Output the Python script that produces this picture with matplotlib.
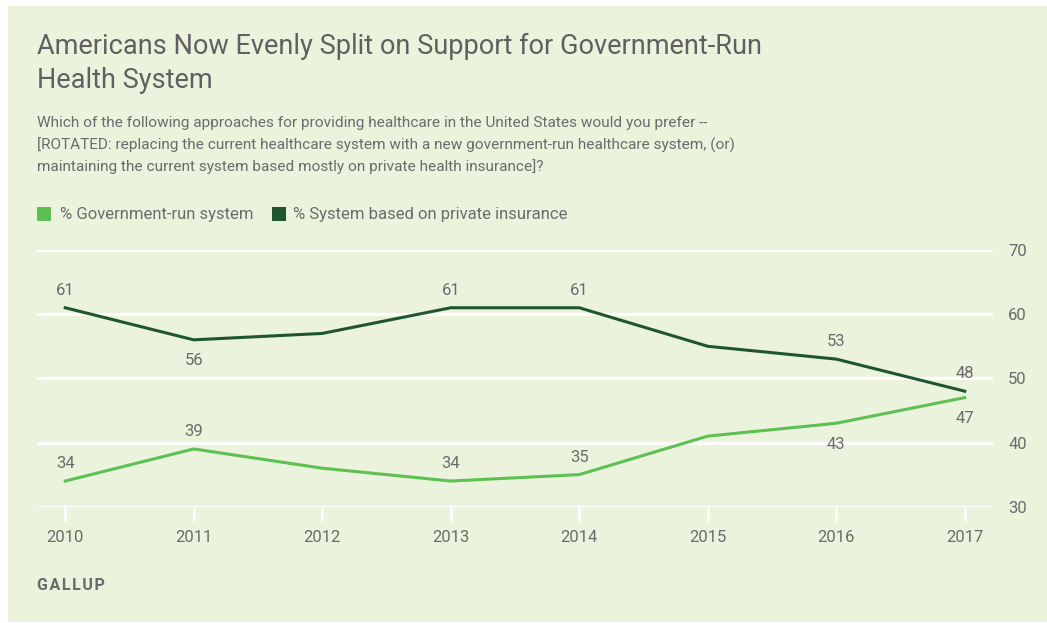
import matplotlib.pyplot as plt
from matplotlib.patches import Rectangle

years = [2010, 2011, 2012, 2013, 2014, 2015, 2016, 2017]
gov_run = [34, 39, 36, 34, 35, 41, 43, 47]
private = [61, 56, 57, 61, 61, 55, 53, 48]

# which points get a value label, and on which side of the line
gov_labels = {2010: "above", 2011: "above", 2013: "above", 2014: "above", 2016: "below", 2017: "below"}
priv_labels = {2010: "above", 2011: "below", 2013: "above", 2014: "above", 2016: "above", 2017: "above"}

y_ticks = [30, 40, 50, 60, 70]

light = "#5cc152"
dark = "#1f5631"
bg = "#ebf3dd"
grey = "#6b6b6b"

plt.rcParams["font.family"] = ["Roboto", "DejaVu Sans"]

W, H = 1047, 623
fig = plt.figure(figsize=(W / 100, H / 100), dpi=100)
fig.patch.set_facecolor("white")
fig.add_artist(Rectangle((8 / W, 1 - 622 / H), (W - 8) / W, (622 - 6) / H,
                         transform=fig.transFigure, facecolor=bg, edgecolor="none", zorder=0))

ax = fig.add_axes([37 / W, 1 - 506.7 / H, (993 - 37) / W, (506.7 - 250) / H])
ax.set_facecolor("none")
ax.set_ylim(30, 70)
ax.set_xlim(2009.78, 2017.22)

for t in y_ticks:
    ax.axhline(t, color="white", lw=2.2, zorder=1)
for s in ax.spines.values():
    s.set_visible(False)

ax.set_yticks(y_ticks)
ax.yaxis.tick_right()
ax.tick_params(axis="y", length=0, pad=11, labelsize=12, labelcolor=grey)
ax.set_xticks(years)
ax.tick_params(axis="x", length=10, width=2, color="white", pad=7, labelsize=12, labelcolor=grey)

ax.plot(years, gov_run, color=light, lw=2.2, zorder=3, clip_on=False)
ax.plot(years, private, color=dark, lw=2.2, zorder=3, clip_on=False)

for yr, v in zip(years, gov_run):
    if yr in gov_labels:
        off = 12.5 if gov_labels[yr] == "above" else -15
        ax.annotate(str(v), (yr, v), xytext=(0, off), textcoords="offset points",
                    ha="center", va="center", fontsize=12, color=grey)
for yr, v in zip(years, private):
    if yr in priv_labels:
        off = 12.5 if priv_labels[yr] == "above" else -15
        ax.annotate(str(v), (yr, v), xytext=(0, off), textcoords="offset points",
                    ha="center", va="center", fontsize=12, color=grey)

fig.text(37 / W, 1 - 46 / H, "Americans Now Evenly Split on Support for Government-Run",
         fontsize=19.5, color="#606060", va="center")
fig.text(37 / W, 1 - 81 / H, "Health System", fontsize=19.5, color="#606060", va="center")

sub = ["Which of the following approaches for providing healthcare in the United States would you prefer --",
       "[ROTATED: replacing the current healthcare system with a new government-run healthcare system, (or)",
       "maintaining the current system based mostly on private health insurance]?"]
for i, line in enumerate(sub):
    fig.text(37 / W, 1 - (123 + 22 * i) / H, line, fontsize=11.1, color=grey, va="center")

# legend
fig.add_artist(Rectangle((37 / W, 1 - 221 / H), 14 / W, 14 / H, transform=fig.transFigure,
                         facecolor=light, edgecolor="none"))
fig.text(60 / W, 1 - 214 / H, "% Government-run system", fontsize=12, color=grey, va="center")
fig.add_artist(Rectangle((272 / W, 1 - 221 / H), 14 / W, 14 / H, transform=fig.transFigure,
                         facecolor=dark, edgecolor="none"))
fig.text(293 / W, 1 - 214 / H, "% System based on private insurance", fontsize=12, color=grey, va="center")

# logo with a little letter spacing (hair spaces)
fig.text(37 / W, 1 - 585 / H, "\u200a".join("GALLUP"), fontsize=11.5, color=grey,
         va="center", fontweight="bold")

fig.savefig("out.png", dpi=100, facecolor=fig.get_facecolor())
